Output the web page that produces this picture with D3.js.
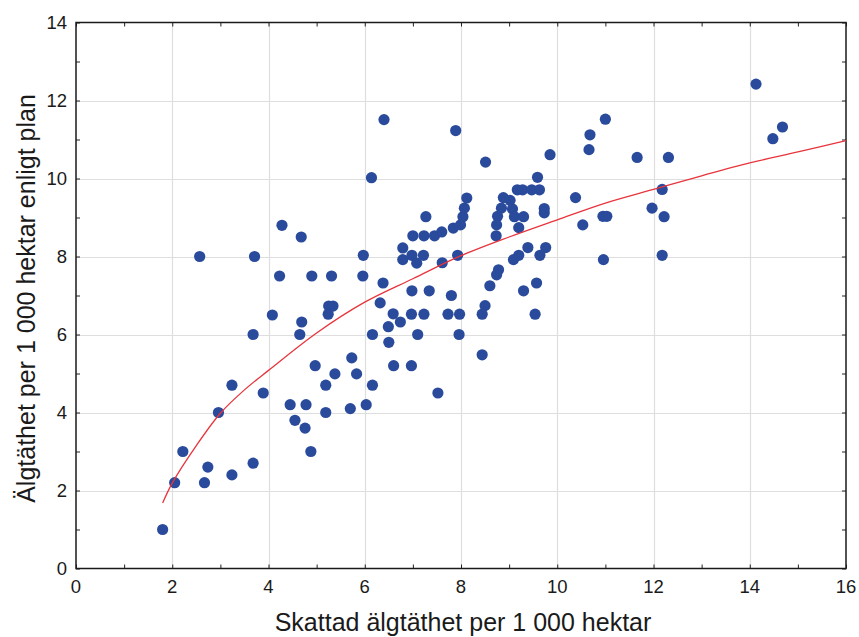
<!DOCTYPE html>
<html>
<head>
<meta charset="utf-8">
<script src="https://cdn.jsdelivr.net/npm/d3@7"></script>
<style>
  html, body { margin: 0; padding: 0; background: #fff; }
  svg text { font-family: 'Liberation Sans', Arial, sans-serif; fill: #1a1a1a; }
</style>
</head>
<body>
<svg id="chart" width="859" height="637"></svg>
<script>
// Scatter data: estimated moose density (x) vs planned density (y)
const xValues = [
  1.8, 2.05, 2.22, 2.67, 2.74, 3.24, 3.68, 2.96, 3.24, 3.89,
  4.45, 4.78, 4.55, 4.76, 4.88, 2.57, 3.71, 4.28, 4.68, 4.23,
  4.9, 4.08, 4.69, 3.68, 4.65, 4.97, 7.27, 7.0, 7.23, 7.45,
  7.6, 7.84, 7.99, 8.04, 8.07, 8.12, 6.79, 6.98, 7.22, 6.79,
  7.08, 5.97, 7.61, 7.93, 5.31, 5.96, 6.38, 6.98, 7.34, 7.8,
  5.25, 5.34, 5.24, 6.32, 6.59, 6.97, 7.23, 7.73, 7.97, 6.74,
  6.49, 6.16, 7.1, 7.96, 6.5, 5.73, 6.6, 6.97, 5.38, 5.83,
  5.19, 6.16, 7.52, 5.19, 5.7, 6.03, 6.4, 7.89, 6.14, 8.51,
  9.85, 10.66, 10.68, 11.0, 9.59, 9.17, 9.28, 9.47, 9.63, 8.88,
  9.02, 8.84, 9.07, 9.73, 9.73, 8.76, 8.74, 9.11, 9.3, 9.2,
  8.73, 10.38, 10.53, 10.95, 11.03, 10.96, 9.39, 9.76, 9.64, 9.2,
  9.09, 8.78, 8.74, 8.6, 9.3, 9.57, 8.5, 8.44, 9.54, 14.13,
  14.68, 14.48, 11.66, 12.31, 12.18, 11.97, 12.22, 12.18, 8.44
];
const yValues = [
  1.0, 2.2, 3.0, 2.2, 2.6, 2.4, 2.7, 4.0, 4.7, 4.5,
  4.2, 4.2, 3.8, 3.6, 3.0, 8.0, 8.0, 8.8, 8.5, 7.5,
  7.5, 6.5, 6.32, 6.0, 6.0, 5.2, 9.02, 8.53, 8.53, 8.53,
  8.63, 8.73, 8.81, 9.02, 9.24, 9.5, 8.22, 8.03, 8.03, 7.92,
  7.83, 8.03, 7.84, 8.03, 7.5, 7.5, 7.32, 7.12, 7.12, 7.0,
  6.73, 6.73, 6.52, 6.81, 6.53, 6.52, 6.52, 6.52, 6.52, 6.32,
  6.2, 6.0, 6.0, 6.0, 5.8, 5.4, 5.2, 5.2, 4.99, 4.99,
  4.7, 4.7, 4.5, 4.0, 4.1, 4.2, 11.51, 11.23, 10.02, 10.42,
  10.61, 10.74, 11.12, 11.52, 10.03, 9.71, 9.71, 9.71, 9.71, 9.51,
  9.44, 9.24, 9.22, 9.23, 9.12, 9.03, 8.81, 9.02, 9.02, 8.74,
  8.53, 9.51, 8.81, 9.03, 9.03, 7.92, 8.23, 8.23, 8.03, 8.03,
  7.92, 7.66, 7.53, 7.25, 7.12, 7.32, 6.74, 6.52, 6.52, 12.42,
  11.32, 11.02, 10.54, 10.54, 9.72, 9.24, 9.02, 8.03, 5.48
];
// Fitted curve
const curveX = [1.8, 2.0, 2.5, 3.0, 3.5, 4.0, 5.0, 6.0, 7.0, 8.0, 9.0, 10.0, 11.0, 12.0, 13.0, 14.0, 15.0, 16.0];
const curveY = [1.68, 2.19, 3.15, 3.98, 4.58, 5.08, 6.04, 6.83, 7.43, 8.02, 8.5, 8.94, 9.37, 9.72, 10.07, 10.4, 10.68, 10.97];
const xTicks = [0, 2, 4, 6, 8, 10, 12, 14, 16];
const yTicks = [0, 2, 4, 6, 8, 10, 12, 14];
const xTitle = "Skattad älgtäthet per 1 000 hektar";
const yTitle = "Älgtäthet per 1 000 hektar enligt plan";

const svg = d3.select("#chart");
const pLeft = 76, pRight = 846, pTop = 22.5, pBottom = 568.5;
const x = d3.scaleLinear().domain([0, 16]).range([pLeft, pRight]);
const y = d3.scaleLinear().domain([0, 14]).range([pBottom, pTop]);

// grid
const grid = svg.append("g");
grid.selectAll("line.gx").data(xTicks.slice(1, -1)).join("line")
  .attr("x1", d => Math.round(x(d)) + 0.5).attr("x2", d => Math.round(x(d)) + 0.5)
  .attr("y1", pTop).attr("y2", pBottom)
  .attr("stroke", "#dedede").attr("stroke-width", 1.2);
grid.selectAll("line.gy").data(yTicks.slice(1, -1)).join("line")
  .attr("y1", d => Math.round(y(d)) + 0.5).attr("y2", d => Math.round(y(d)) + 0.5)
  .attr("x1", pLeft).attr("x2", pRight)
  .attr("stroke", "#dedede").attr("stroke-width", 1.2);

// axes with inward ticks (major + minor)
const minorX = d3.range(0, 17, 1);
const minorY = d3.range(0, 15, 1);
const tickLen = 4;
const axB = d3.axisBottom(x).tickValues(minorX).tickSize(-tickLen).tickFormat("");
const axT = d3.axisTop(x).tickValues(minorX).tickSize(-tickLen).tickFormat("");
const axL = d3.axisLeft(y).tickValues(minorY).tickSize(-tickLen).tickFormat("");
const axR = d3.axisRight(y).tickValues(minorY).tickSize(-tickLen).tickFormat("");
function styleAxis(g) {
  g.select(".domain").remove();
  g.selectAll(".tick line").attr("stroke", "#222").attr("stroke-width", 1);
}
svg.append("g").attr("transform", `translate(0,${pBottom})`).call(axB).call(styleAxis);
svg.append("g").attr("transform", `translate(0,${pTop})`).call(axT).call(styleAxis);
svg.append("g").attr("transform", `translate(${pLeft},0)`).call(axL).call(styleAxis);
svg.append("g").attr("transform", `translate(${pRight},0)`).call(axR).call(styleAxis);

// frame
svg.append("rect").attr("x", pLeft).attr("y", pTop)
  .attr("width", pRight - pLeft).attr("height", pBottom - pTop)
  .attr("fill", "none").attr("stroke", "#1a1a1a").attr("stroke-width", 1.5);

// tick labels
svg.append("g").selectAll("text").data(xTicks).join("text")
  .attr("x", d => x(d)).attr("y", pBottom + 24)
  .attr("text-anchor", "middle").attr("font-size", 18.5)
  .text(d => d);
svg.append("g").selectAll("text").data(yTicks).join("text")
  .attr("x", pLeft - 9).attr("y", d => y(d) + 6.5)
  .attr("text-anchor", "end").attr("font-size", 18.5)
  .text(d => d);

// titles
svg.append("text").attr("x", (pLeft + pRight) / 2 + 2).attr("y", 631)
  .attr("text-anchor", "middle").attr("font-size", 25).text(xTitle);
svg.append("text")
  .attr("transform", `translate(35,${(pTop + pBottom) / 2 + 3}) rotate(-90)`)
  .attr("text-anchor", "middle").attr("font-size", 25).text(yTitle);

// points
const pts = xValues.map((d, i) => ({ x: d, y: yValues[i] }));
svg.append("g").selectAll("circle").data(pts).join("circle")
  .attr("cx", d => x(d.x)).attr("cy", d => y(d.y)).attr("r", 5.6)
  .attr("fill", "#2a4a9c");

// fitted curve
const line = d3.line().x(d => x(d[0])).y(d => y(d[1])).curve(d3.curveCatmullRom);
svg.append("path").datum(curveX.map((d, i) => [d, curveY[i]]))
  .attr("d", line).attr("fill", "none")
  .attr("stroke", "#e8343c").attr("stroke-width", 1.3);
</script>
</body>
</html>
